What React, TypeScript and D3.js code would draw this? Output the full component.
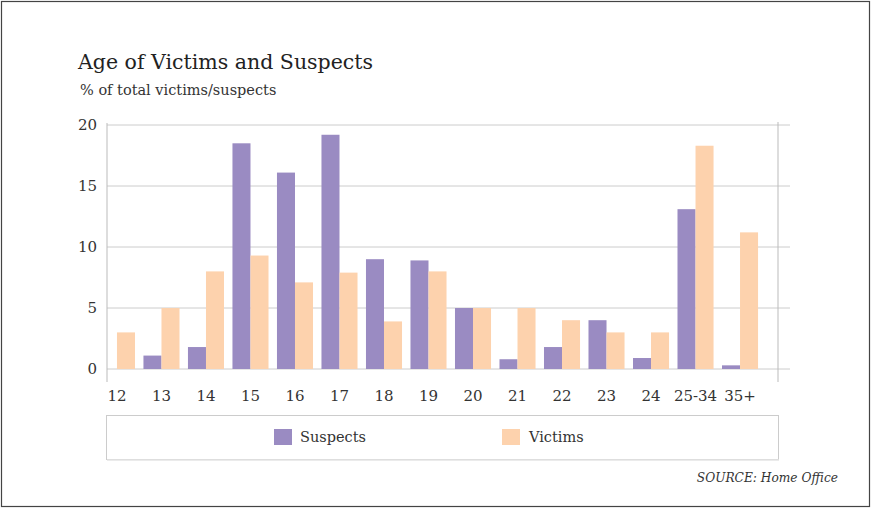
import React, { useEffect } from "react";
import * as d3 from "d3";

const categories = ["12", "13", "14", "15", "16", "17", "18", "19", "20", "21", "22", "23", "24", "25-34", "35+"];
const suspects = [0, 1.1, 1.8, 18.5, 16.1, 19.2, 9.0, 8.9, 5.0, 0.8, 1.8, 4.0, 0.9, 13.1, 0.3];
const victims = [3.0, 5.0, 8.0, 9.3, 7.1, 7.9, 3.9, 8.0, 5.0, 5.0, 4.0, 3.0, 3.0, 18.3, 11.2];
const yTicks = [0, 5, 10, 15, 20];
const seriesNames = ["Suspects", "Victims"];
const seriesColors = ["#9a8bc2", "#fdd2ad"];

const W = 871;
const H = 508;
const FONT = "'DejaVu Serif', serif";

export default function App() {
  useEffect(() => {
    document.body.style.margin = "0";
  }, []);

  const y = d3.scaleLinear().domain([0, 20]).range([369, 125]);
  const x = d3
    .scaleBand<string>()
    .domain(categories)
    .range([94.5, 762.5])
    .paddingInner(0.19)
    .paddingOuter(0.1);
  const inner = d3.scaleBand<string>().domain(seriesNames).range([0, x.bandwidth()]);

  const plotLeft = 107;
  const plotRight = 790;
  const rightAxis = 778;

  const series = [suspects, victims];

  return (
    <svg width={W} height={H} style={{ display: "block", fontFamily: FONT }}>
      <rect x={1.5} y={1.5} width={W - 3} height={H - 3} fill="#fff" stroke="#444" strokeWidth={1.2} />
      <text x={78} y={69} fontSize={20.5} fill="#222">Age of Victims and Suspects</text>
      <text x={80} y={95} fontSize={14.5} fill="#333">% of total victims/suspects</text>

      {yTicks.map((t) => (
        <g key={t}>
          <line x1={plotLeft} x2={plotRight} y1={y(t)} y2={y(t)} stroke="#cccccc" strokeWidth={1} />
          <text x={97} y={y(t)} dy="0.35em" textAnchor="end" fontSize={15} fill="#333">{t}</text>
        </g>
      ))}
      <line x1={plotLeft} x2={plotLeft} y1={123} y2={382} stroke="#bbbbbb" />
      <line x1={rightAxis} x2={rightAxis} y1={122} y2={382} stroke="#bbbbbb" />

      {categories.map((c, i) => (
        <g key={c} transform={`translate(${x(c)},0)`}>
          {series.map((s, j) => (
            <rect
              key={j}
              x={inner(seriesNames[j])}
              y={y(s[i])}
              width={inner.bandwidth()}
              height={y(0) - y(s[i])}
              fill={seriesColors[j]}
            />
          ))}
          <text x={x.bandwidth() / 2} y={396} dy="0.35em" textAnchor="middle" fontSize={15} fill="#333">{c}</text>
        </g>
      ))}

      <rect x={106.5} y={415.5} width={672} height={44} fill="#fff" stroke="#cccccc" />
      <line x1={107} x2={779} y1={460} y2={460} stroke="#e4e4e4" strokeWidth={1.5} />
      {seriesNames.map((n, j) => (
        <g key={n} transform={`translate(${j === 0 ? 274 : 502},429)`}>
          <rect width={18} height={16} fill={seriesColors[j]} />
          <text x={j === 0 ? 26 : 27} y={8} dy="0.35em" fontSize={14.5} fill="#333">{n}</text>
        </g>
      ))}

      <text x={838} y={482} textAnchor="end" fontSize={12.2} fontStyle="italic" fill="#333">SOURCE: Home Office</text>
    </svg>
  );
}
